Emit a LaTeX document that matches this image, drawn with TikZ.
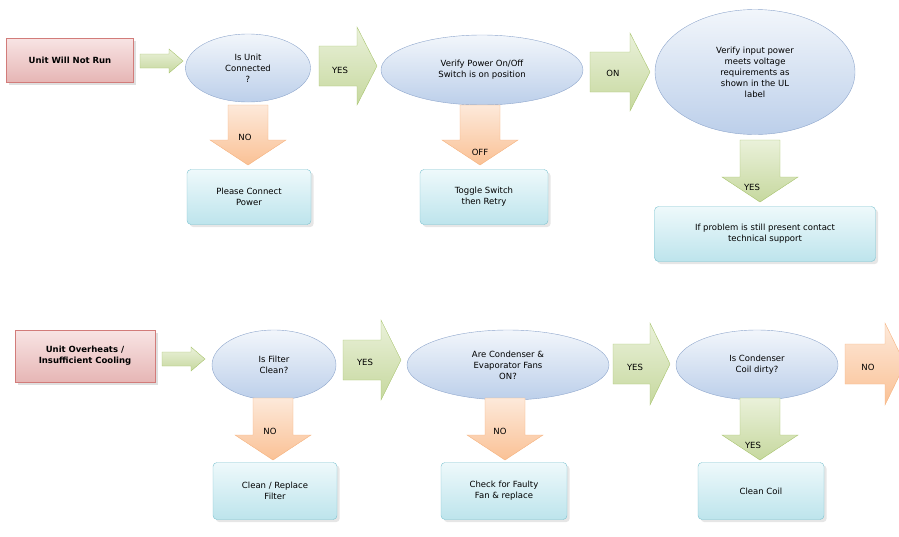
\documentclass[tikz,border=0pt]{standalone}
\usepackage{fontspec}
\setmainfont{DejaVu Sans}
\usetikzlibrary{shapes,shadows}

\definecolor{ellline}{HTML}{8EA6CC}
\definecolor{elltop}{HTML}{F2F6FB}
\definecolor{ellbot}{HTML}{BCCFEA}
\definecolor{boxline}{HTML}{7CC2CF}
\definecolor{boxtop}{HTML}{EEF9FB}
\definecolor{boxbot}{HTML}{BDE4EC}
\definecolor{redline}{HTML}{D27C7A}
\definecolor{redtop}{HTML}{F8E4E4}
\definecolor{redbot}{HTML}{E6B6B5}
\definecolor{grnline}{HTML}{A8C46E}
\definecolor{grntop}{HTML}{EAF1DA}
\definecolor{grnbot}{HTML}{C6D89E}
\definecolor{orgline}{HTML}{F5B27E}
\definecolor{orgtop}{HTML}{FDE9DA}
\definecolor{orgbot}{HTML}{FAC195}

% fat arrows: right (x1,x2,yc,body,head,headlen) and down (xc,y1,y2,body,head,headlen)
\newcommand{\rarr}[7]{\path[#7] (#1,#3-#4) -- (#2-#6,#3-#4) -- (#2-#6,#3-#5) -- (#2,#3) -- (#2-#6,#3+#5) -- (#2-#6,#3+#4) -- (#1,#3+#4) -- cycle;}
\newcommand{\darr}[7]{\path[#7] (#1-#4,#2) -- (#1-#4,#3-#6) -- (#1-#5,#3-#6) -- (#1,#3) -- (#1+#5,#3-#6) -- (#1+#4,#3-#6) -- (#1+#4,#2) -- cycle;}

\begin{document}
\begin{tikzpicture}[x=1pt,y=-1pt,font=\fontsize{8.5}{11}\selectfont,
  start/.style={rectangle,draw=redline,thick,top color=redtop,bottom color=redbot,
    drop shadow={opacity=0.25},font=\fontsize{8.5}{11}\selectfont\bfseries,align=center},
  question/.style={ellipse,draw=ellline,top color=elltop,bottom color=ellbot,align=center},
  action/.style={rectangle,rounded corners=4pt,draw=boxline,top color=boxtop,bottom color=boxbot,
    drop shadow={opacity=0.2},align=center},
  go/.style={draw=grnline,top color=grntop,bottom color=grnbot},
  stop/.style={draw=orgline,top color=orgtop,bottom color=orgbot}]
  \useasboundingbox (0,0) rectangle (899,536);

  % first problem
  \node[start,minimum width=127,minimum height=44] (run) at (70,60) {Unit Will Not Run};
  \node[question,minimum width=125,minimum height=68] (conn) at (248,68) {Is Unit\\Connected\\?};
  \node[question,minimum width=202,minimum height=70] (switch) at (482,70) {Verify Power On/Off\\Switch is on position};
  \node[question,minimum width=200,minimum height=125] (volt) at (755,72) {Verify input power\\meets voltage\\requirements as\\shown in the UL\\label};
  \node[action,minimum width=124,minimum height=55] (power) at (249,197) {Please Connect\\Power};
  \node[action,minimum width=128,minimum height=55] (toggle) at (484,197) {Toggle Switch\\then Retry};
  \node[action,minimum width=221,minimum height=55] (support) at (765,234) {If problem is still present contact\\technical support};

  \rarr{140}{183}{61}{7}{12}{14}{go}
  \rarr{319}{377}{66}{20}{39}{20}{go}
  \rarr{590}{650}{72}{20}{39}{20}{go}
  \darr{248}{105}{165}{20}{38}{25}{stop}
  \darr{480}{105}{165}{20}{38}{25}{stop}
  \darr{760}{140}{202}{20}{38}{25}{go}
  \node (yes1) at (340,70) {YES};
  \node (on) at (613,73) {ON};
  \node (no1) at (245,137) {NO};
  \node (off) at (480,152) {OFF};
  \node (yes2) at (752,187) {YES};

  % second problem
  \node[start,minimum width=140,minimum height=52] (heat) at (85,356) {Unit Overheats /\\Insufficient Cooling};
  \node[question,minimum width=124,minimum height=70] (filter) at (274,365) {Is Filter\\Clean?};
  \node[question,minimum width=202,minimum height=70] (fans) at (508,365) {Are Condenser \&\\Evaporator Fans\\ON?};
  \node[question,minimum width=162,minimum height=70] (coil) at (757,365) {Is Condenser\\Coil dirty?};
  \node[action,minimum width=124,minimum height=57] (replace) at (275,491) {Clean / Replace\\Filter};
  \node[action,minimum width=126,minimum height=57] (faulty) at (504,491) {Check for Faulty\\Fan \& replace};
  \node[action,minimum width=126,minimum height=57] (clean) at (761,491) {Clean Coil};

  \rarr{162}{205}{359}{7}{12}{14}{go}
  \rarr{343}{401}{360}{20}{40}{20}{go}
  \rarr{613}{670}{364}{20}{41}{20}{go}
  \rarr{845}{905}{364}{20}{41}{20}{stop}
  \darr{273}{398}{460}{20}{38}{25}{stop}
  \darr{505}{398}{460}{20}{38}{25}{stop}
  \darr{760}{398}{460}{20}{38}{25}{go}
  \node (yes3) at (365,362) {YES};
  \node (yes4) at (635,367) {YES};
  \node (no2) at (868,367) {NO};
  \node (no3) at (270,431) {NO};
  \node (no4) at (500,431) {NO};
  \node (yes5) at (753,445) {YES};
\end{tikzpicture}
\end{document}
